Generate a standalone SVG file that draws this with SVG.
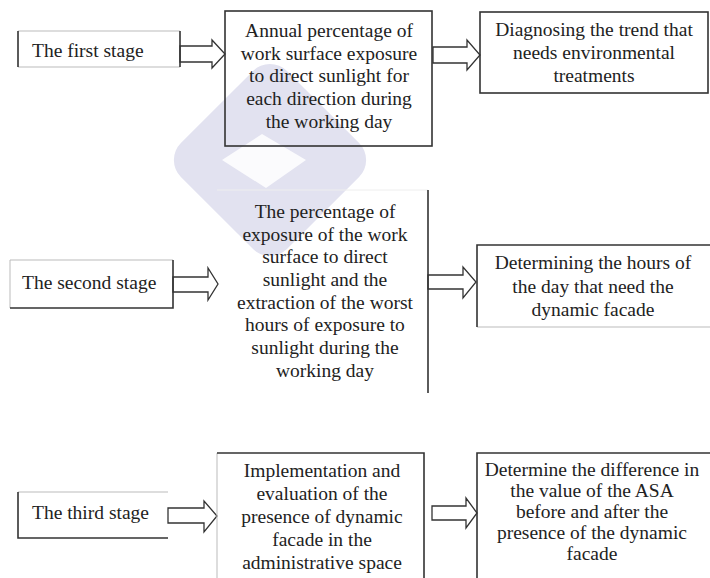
<svg xmlns="http://www.w3.org/2000/svg" width="710" height="578" viewBox="0 0 710 578">
<defs>
<style>
text{font-family:"Liberation Serif","Times New Roman",serif;font-size:19.5px;fill:#222}
.c{text-anchor:middle}
.dk{stroke:#333;stroke-width:1.6;fill:none}
.lt{stroke:#bbb;stroke-width:1;fill:none}
.arr{fill:#fff;stroke:#333;stroke-width:1.3;stroke-linejoin:miter}
.wm{fill:#e2e2f0}
</style>
</defs>
<rect width="710" height="578" fill="#fff"/>
<g id="watermark">
<rect class="wm" x="195" y="85" width="150" height="150" rx="24" transform="rotate(45 270 160)"/>
<path d="M222 160 L262 134 L306 160 L266 188 Z" fill="#fff" opacity="0.85"/>
</g>
<g id="connectors">
<path class="arr" d="M180 46 H212 V40 L225 54 L212 68 V62 H180 Z"/>
<path class="arr" d="M433 47 H467 V40 L480 55 L467 70 V63 H433 Z"/>
<path class="arr" d="M173 277 H208 V268 L218 284 L208 300 V292 H173 Z"/>
<path class="arr" d="M428 275 H463 V267 L476 282 L463 298 V289 H428 Z"/>
<path class="arr" d="M168 508 H204 V501 L217 516 L204 532 V523 H168 Z"/>
<path class="arr" d="M432 506 H466 V498 L477 513 L466 528 V520 H432 Z"/>
</g>
<g id="stage1">
<path class="lt" d="M18 31 H180 M18 67 H180"/>
<path class="dk" d="M18 31 V67 M180 31 V67"/>
<text x="32" y="57">The first stage</text>
</g>
<g id="box-annual">
<rect class="dk" x="225" y="11" width="207" height="135"/>
<text class="c" x="329" y="37">Annual percentage of</text>
<text class="c" x="329" y="60">work surface exposure</text>
<text class="c" x="329" y="82">to direct sunlight for</text>
<text class="c" x="329" y="105">each direction during</text>
<text class="c" x="329" y="128">the working day</text>
</g>
<g id="box-diagnosing">
<rect class="dk" x="480" y="12" width="228" height="81"/>
<text class="c" x="594" y="36">Diagnosing the trend that</text>
<text class="c" x="594" y="59">needs environmental</text>
<text class="c" x="594" y="82">treatments</text>
</g>
<g id="stage2">
<path class="lt" d="M10 260 V308 M10 260 H173"/>
<path class="dk" d="M173 260 V308 H10"/>
<text x="22" y="289">The second stage</text>
</g>
<g id="box-percentage">
<path d="M217 190 H428" stroke="#eee" stroke-width="1" fill="none"/>
<path class="dk" d="M428 190 V393"/>
<text class="c" x="325" y="218">The percentage of</text>
<text class="c" x="325" y="241">exposure of the work</text>
<text class="c" x="325" y="263">surface to direct</text>
<text class="c" x="325" y="286">sunlight and the</text>
<text class="c" x="325" y="309">extraction of the worst</text>
<text class="c" x="325" y="331">hours of exposure to</text>
<text class="c" x="325" y="354">sunlight during the</text>
<text class="c" x="325" y="377">working day</text>
</g>
<g id="box-determining">
<path class="lt" d="M477 327 H710"/>
<path class="dk" d="M477 327 V245 H710"/>
<text class="c" x="593" y="269">Determining the hours of</text>
<text class="c" x="593" y="293">the day that need the</text>
<text class="c" x="593" y="316">dynamic facade</text>
</g>
<g id="stage3">
<path class="lt" d="M18 492 H168"/>
<path class="dk" d="M18 492 V538 H168"/>
<text x="32" y="519">The third stage</text>
</g>
<g id="box-implementation">
<path class="lt" d="M217 453 V578"/>
<path class="dk" d="M217 453 H424 V578"/>
<text class="c" x="322" y="477">Implementation and</text>
<text class="c" x="322" y="500">evaluation of the</text>
<text class="c" x="322" y="523">presence of dynamic</text>
<text class="c" x="322" y="546">facade in the</text>
<text class="c" x="322" y="569">administrative space</text>
</g>
<g id="box-determine">
<path class="dk" d="M477 578 V453 H710"/>
<text class="c" x="592" y="476">Determine the difference in</text>
<text class="c" x="592" y="497">the value of the ASA</text>
<text class="c" x="592" y="518">before and after the</text>
<text class="c" x="592" y="539">presence of the dynamic</text>
<text class="c" x="592" y="560">facade</text>
</g>
</svg>
